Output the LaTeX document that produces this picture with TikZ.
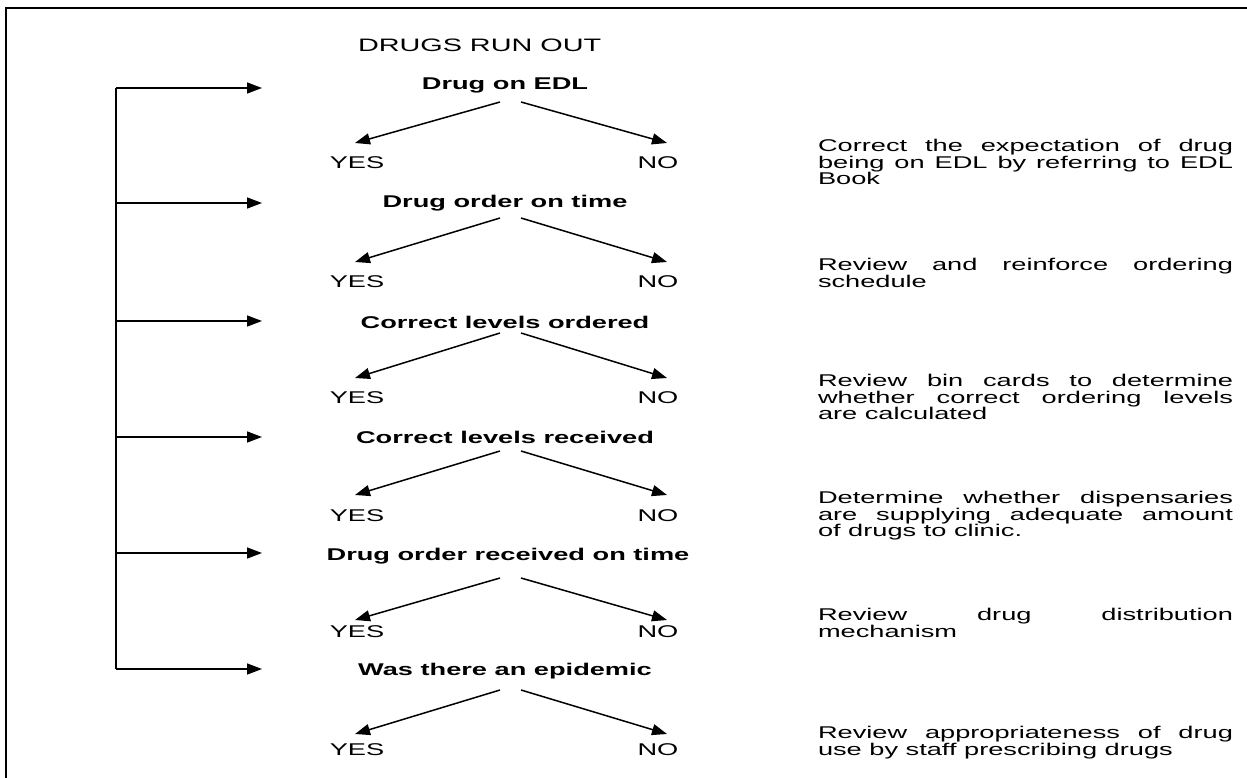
\documentclass[tikz,border=0pt]{standalone}
\usepackage{fontspec}
\setmainfont{Liberation Sans}[FakeStretch=1.6]
\usetikzlibrary{arrows.meta}
\hbadness=10000
\tolerance=10000
\begin{document}
\begin{tikzpicture}[x=1pt,y=-1pt,
  every node/.style={inner sep=0pt, outer sep=0pt},
  heading/.style={font=\fontsize{18}{21}\selectfont, anchor=west},
  question/.style={font=\bfseries\fontsize{17}{20}\selectfont},
  answer/.style={font=\fontsize{17}{20}\selectfont},
  note/.style={font=\fontsize{17}{16.8}\selectfont, text width=415pt, align=justify, anchor=north west},
  arr/.style={line width=1.5pt, -{Triangle[length=15pt,width=11pt]}},
  frame/.style={line width=1.8pt}]
\useasboundingbox (0,0) rectangle (1247,778);

% page frame
\draw[frame] (6,778) -- (6,8) -- (1247,8);

\node[heading] (title) at (358,45) {DRUGS RUN OUT};

% questions with their YES / NO branches
\node[question] (q0) at (505,85) {Drug on EDL};
\node[question] (q1) at (505,203) {Drug order on time};
\node[question] (q2) at (505,322) {Correct levels ordered};
\node[question] (q3) at (505,437) {Correct levels received};
\node[question] (q4) at (508,556) {Drug order received on time};
\node[question] (q5) at (505,671) {Was there an epidemic};

\foreach \i/\yy/\sy/\ey in {0/163/102/143, 1/282/218/262, 2/398/333/378,
                             3/516/451/495, 4/632/578/620, 5/750/690/734}{
  \node[answer] (y\i) at (357,\yy) {YES};
  \node[answer] (n\i) at (658,\yy) {NO};
  \coordinate (ql\i) at (500,\sy);
  \coordinate (qr\i) at (521,\sy);
  \coordinate (yt\i) at (355,\ey);
  \coordinate (nt\i) at (667,\ey);
  \draw[arr] (ql\i) -- (yt\i);
  \draw[arr] (qr\i) -- (nt\i);
}

% loop-back bracket on the left
\coordinate (b0) at (116,88);
\coordinate (b5) at (116,669);
\draw[line width=1.5pt] (b0) -- (b5);
\foreach \i/\by in {0/88, 1/203, 2/321, 3/437, 4/553, 5/669}{
  \coordinate (bl\i) at (116,\by);
  \coordinate (bt\i) at (262,\by);
  \draw[arr] (bl\i) -- (bt\i);
}

% corrective actions
\node[note] (r0) at (818,139) {Correct the expectation of drug\linebreak being on EDL by referring to EDL\linebreak Book};
\node[note] (r1) at (818,258) {Review and reinforce ordering\linebreak schedule};
\node[note] (r2) at (818,374) {Review bin cards to determine\linebreak whether correct ordering levels\linebreak are calculated};
\node[note] (r3) at (818,491) {Determine whether dispensaries\linebreak are supplying adequate amount\linebreak of drugs to clinic.};
\node[note] (r4) at (818,608) {Review drug distribution\linebreak mechanism};
\node[note] (r5) at (818,726) {Review appropriateness of drug\linebreak use by staff prescribing drugs};
\end{tikzpicture}
\end{document}
